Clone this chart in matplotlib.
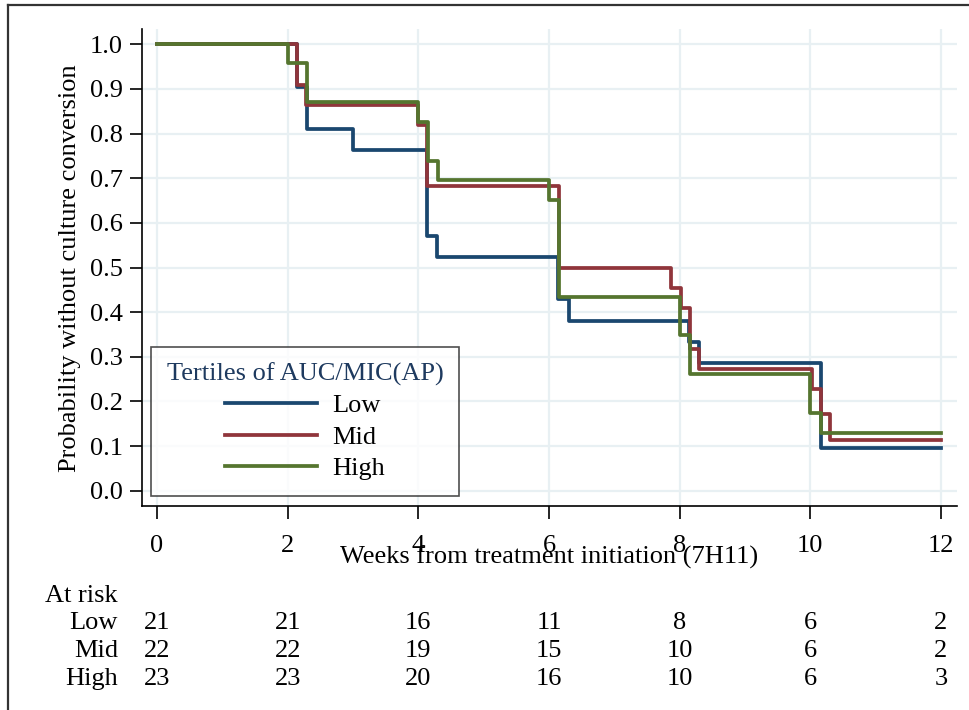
import matplotlib
matplotlib.use('Agg')
import matplotlib.pyplot as plt
import matplotlib.transforms as mtransforms
from matplotlib.lines import Line2D

# Kaplan-Meier step data
low_t = [0, 2.14, 2.29, 3.0, 4.14, 4.29, 6.14, 6.30, 8.15, 8.30, 10.16, 12]
low_s = [1.0, 0.905, 0.810, 0.762, 0.571, 0.524, 0.429, 0.381, 0.333, 0.286, 0.095, 0.095]

mid_t = [0, 2.14, 2.28, 3.99, 4.14, 6.16, 7.86, 8.02, 8.16, 8.30, 10.02, 10.16, 10.30, 12]
mid_s = [1.0, 0.909, 0.864, 0.818, 0.682, 0.500, 0.455, 0.409, 0.318, 0.273, 0.227, 0.172, 0.114, 0.114]

high_t = [0, 2.0, 2.29, 4.0, 4.15, 4.30, 6.0, 6.15, 8.0, 8.16, 10.0, 10.16, 12]
high_s = [1.0, 0.957, 0.870, 0.826, 0.739, 0.696, 0.652, 0.435, 0.348, 0.261, 0.174, 0.130, 0.130]

groups = ['Low', 'Mid', 'High']
colors = ['#1a476f', '#90353b', '#55752f']

risk_weeks = [0, 2, 4, 6, 8, 10, 12]
risk_low = [21, 21, 16, 11, 8, 6, 2]
risk_mid = [22, 22, 19, 15, 10, 6, 2]
risk_high = [23, 23, 20, 16, 10, 6, 3]

plt.rcParams['font.family'] = ['Liberation Serif', 'DejaVu Serif']
fs = 19

fig = plt.figure(figsize=(9.69, 7.10), dpi=100)
ax = fig.add_axes([142/969, 1 - 506/710, (957 - 142)/969, (506 - 29)/710])

series = [(low_t, low_s), (mid_t, mid_s), (high_t, high_s)]
for (t, s), g, c in zip(series, groups, colors):
    ax.step(t, s, where='post', color=c, lw=2.7, label=g)

ax.set_xlim(-0.23, 12.245)
ax.set_ylim(-0.034, 1.034)
ax.set_xticks(risk_weeks)
ax.set_yticks([i / 10 for i in range(11)])
ax.set_yticklabels([f'{i / 10:.1f}' for i in range(11)])
ax.grid(True, color='#e8f0f3', lw=1.6)
ax.set_axisbelow(True)
for side in ['top', 'right']:
    ax.spines[side].set_visible(False)
for side in ['left', 'bottom']:
    ax.spines[side].set_linewidth(1.2)
ax.tick_params(axis='both', direction='out', length=9, width=1.2, labelsize=fs)
ax.tick_params(axis='x', pad=12)
ax.tick_params(axis='y', pad=5)

leg = ax.legend(loc='lower left', bbox_to_anchor=(0.011, 0.021), borderaxespad=0,
                title='Tertiles of AUC/MIC(AP)', fontsize=fs, title_fontsize=fs,
                frameon=True, fancybox=False, edgecolor='#222222',
                handlelength=3.5, handletextpad=0.57, labelspacing=0.3,
                borderpad=0.6)
leg.get_frame().set_linewidth(1.2)
leg.get_title().set_color('#1e3a5f')

fig.text(549/969, 1 - 557/710, 'Weeks from treatment initiation (7H11)',
         ha='center', va='center', fontsize=fs)
fig.text(70/969, 1 - 268/710, 'Probability without culture conversion',
         ha='center', va='center', rotation=90, fontsize=fs)

# numbers at risk table
trans = mtransforms.blended_transform_factory(ax.transData, fig.transFigure)
fig.text(45/969, 1 - 596/710, 'At risk', ha='left', va='center', fontsize=fs)
rows = [risk_low, risk_mid, risk_high]
row_y = [623, 651, 679]
for g, r, y in zip(groups, rows, row_y):
    fig.text(118/969, 1 - y/710, g, ha='right', va='center', fontsize=fs)
    for w, n in zip(risk_weeks, r):
        ax.text(w, 1 - y/710, str(n), transform=trans, ha='center', va='center',
                fontsize=fs, clip_on=False)

# outer frame
fig.add_artist(Line2D([8/969, 1], [1 - 5/710, 1 - 5/710], transform=fig.transFigure,
                      color='#333333', lw=1.6))
fig.add_artist(Line2D([8/969, 8/969], [0, 1 - 5/710], transform=fig.transFigure,
                      color='#333333', lw=1.6))

fig.savefig('out.png', dpi=100)
